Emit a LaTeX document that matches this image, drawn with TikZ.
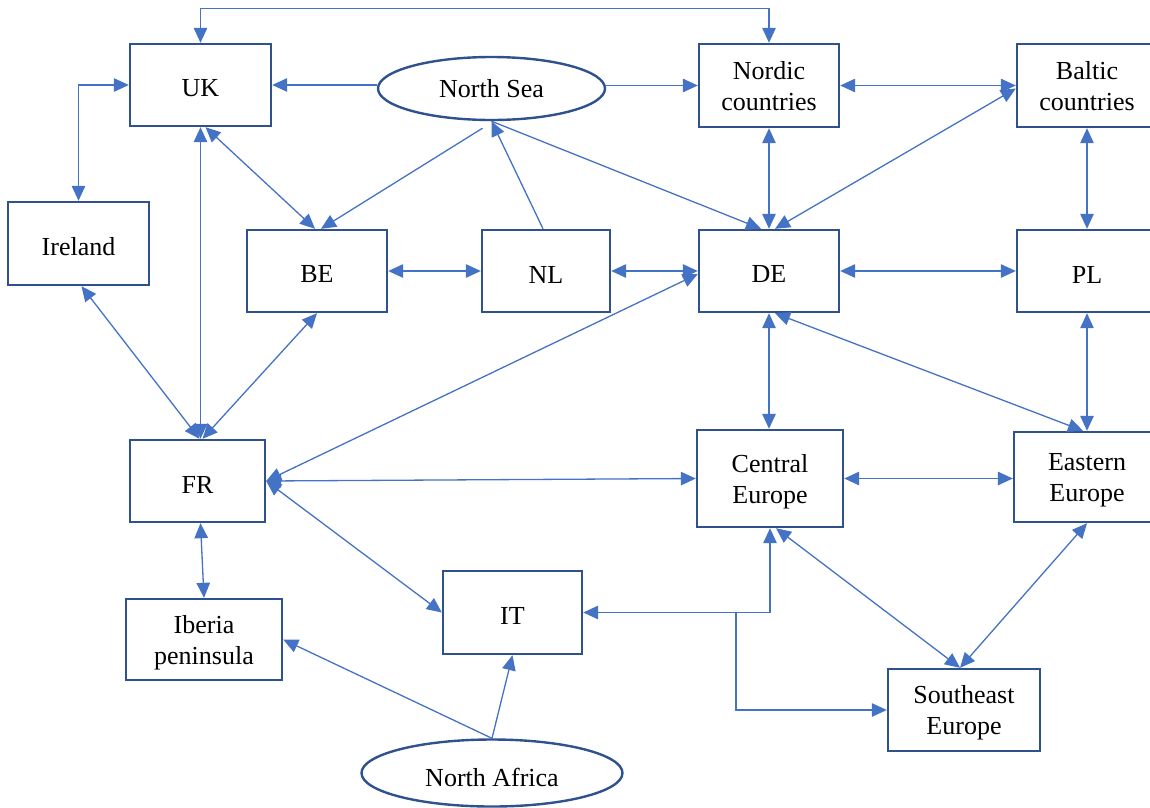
\documentclass[tikz,border=0pt]{standalone}
\usepackage{fontspec}
\setmainfont{Liberation Serif}
\usetikzlibrary{arrows.meta,shapes.geometric,calc}
\definecolor{boxblue}{HTML}{2F528F}
\definecolor{lineblue}{HTML}{4472C4}
\begin{document}
\begin{tikzpicture}[x=1pt,y=-1pt,
  box/.style={draw=boxblue,line width=2.4pt,rectangle,align=center,inner sep=0pt,font=\fontsize{26}{31}\selectfont,
    execute at begin node={\rule{0pt}{24pt}}},
  twoline/.style={text depth=0pt},
  oval/.style={draw=boxblue,line width=2.4pt,ellipse,inner sep=0pt,font=\fontsize{26}{31}\selectfont},
  conn/.style={draw=lineblue,line width=1.3pt},
  tip/.tip={Triangle[length=15pt,width=13.5pt]},
  one/.style={conn,-tip},
  two/.style={conn,tip-tip}]
\useasboundingbox (0,0) rectangle (1150,807);
% nodes
\node[box,minimum width=141pt,minimum height=82pt] (UK) at (200.5,85) {UK};
\node[oval,minimum width=227pt,minimum height=63pt] (NS) at (491.5,88.5) {North Sea};
\node[box,twoline,minimum width=140pt,minimum height=83pt] (Nordic) at (769,85.5) {Nordic\\countries};
\node[box,twoline,minimum width=140pt,minimum height=83pt] (Baltic) at (1087,85.5) {Baltic\\countries};
\node[box,minimum width=141pt,minimum height=83pt] (Ireland) at (78.5,243.5) {Ireland};
\node[box,minimum width=140pt,minimum height=82pt] (BE) at (317,271) {BE};
\node[box,minimum width=128pt,minimum height=82pt] (NL) at (546,271) {NL};
\node[box,minimum width=140pt,minimum height=82pt] (DE) at (769,271) {DE};
\node[box,minimum width=140pt,minimum height=82pt] (PL) at (1087,271) {PL};
\node[box,minimum width=135pt,minimum height=82pt] (FR) at (197.5,481) {FR};
\node[box,twoline,minimum width=146pt,minimum height=97pt] (Central) at (770,478.5) {Central\\Europe};
\node[box,twoline,minimum width=146pt,minimum height=90pt] (Eastern) at (1087,477) {Eastern\\Europe};
\node[box,minimum width=139pt,minimum height=83pt] (IT) at (512.5,612.5) {IT};
\node[box,twoline,minimum width=156pt,minimum height=81pt] (Iberia) at (204,639.5) {Iberia\\peninsula};
\node[box,twoline,minimum width=152pt,minimum height=82pt] (SE) at (964,710) {Southeast\\Europe};
\node[oval,minimum width=261pt,minimum height=67pt,execute at begin node={\rule{0pt}{28pt}}] (NA) at (492,773) {North Africa};
% connectors
\draw[two] (UK.north) -- ++(0,-34) -| (Nordic.north);
\draw[one] (NS.west |- UK.east) -- (UK.east);
\draw[one] (NS.east |- Nordic.west) -- (Nordic.west);
\draw[two] (Nordic.east) -- (Baltic.west);
\draw[two] (UK.west) -| (Ireland.north);
\draw[two] (UK.south) -- (UK.south |- FR.north);
\draw[two] ($(UK.south)+(5,0)$) -- ($(BE.north)+(-2,0)$);
\draw[one] ($(NS.south)+(-9,7)$) -- ($(BE.north)+(4,0)$);
\draw[one] ($(NL.north)+(-3,0)$) -- (NS.south);
\draw[one] (NS.south) -- ($(DE.north)+(-8,0)$);
\draw[two] (Nordic.south) -- (DE.north);
\draw[two] ($(DE.north)+(6,0)$) -- ($(Baltic.west)+(0,3)$);
\draw[two] ($(Ireland.south)+(3,0)$) -- ($(FR.north)+(2,0)$);
\draw[two] (BE.south) -- ($(FR.north)+(5,0)$);
\draw[two] (BE.east) -- (NL.west);
\draw[two] (NL.east) -- (DE.west);
\draw[two] ($(DE.west)+(0,3)$) -- (FR.east);
\draw[two] (DE.east) -- (PL.west);
\draw[two] (Baltic.south) -- (PL.north);
\draw[two] (DE.south) -- (DE.south |- Central.north);
\draw[two] ($(DE.south)+(6,0)$) -- ($(Eastern.north)+(-4,0)$);
\draw[two] (PL.south) -- (PL.south |- Eastern.north);
\draw[two] (FR.east) -- (Central.west);
\draw[two] (Central.east) -- (Central.east -| Eastern.west);
\draw[two] (FR.east) -- (IT.west);
\draw[two] ($(FR.south)+(3,0)$) -- (Iberia.north);
\draw[two] (Central.south) |- (IT.east);
\coordinate (J) at (736,612.5);
\draw[one] (J) |- (SE.west);
\draw[two] ($(Central.south)+(6,0)$) -- ($(SE.north)+(-4,0)$);
\draw[two] (Eastern.south) -- ($(SE.north)+(-4,0)$);
\draw[one] (NA.north) -- (Iberia.east);
\draw[one] (NA.north) -- (IT.south);
\end{tikzpicture}
\end{document}
